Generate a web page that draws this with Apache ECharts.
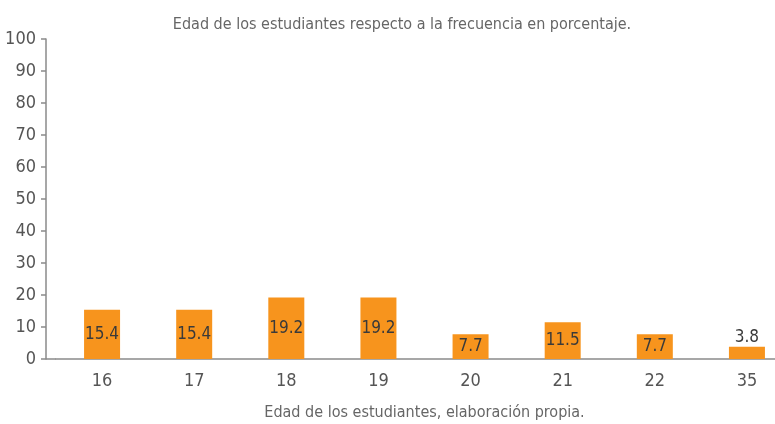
<!DOCTYPE html>
<html>
<head>
<meta charset="utf-8">
<script src="https://cdn.jsdelivr.net/npm/echarts@6/dist/echarts.min.js"></script>
<style>
  html, body { margin: 0; padding: 0; background: #fff; }
  #chart { width: 775px; height: 424px; }
</style>
</head>
<body>
<div id="chart"></div>
<script>
// Age groups of the students and their share (%)
const ages = ['16', '17', '18', '19', '20', '21', '22', '35'];
const percentages = [15.4, 15.4, 19.2, 19.2, 7.7, 11.5, 7.7, 3.8];
const yTicks = { min: 0, max: 100, step: 10 };

const FONT = "'Liberation Sans Narrow', 'DejaVu Sans Condensed', 'Roboto', sans-serif";
const BAR = '#F7941D';
const AXIS = '#8a8a8a';
const GRID_LEFT = 56;
const Y_OFFSET = 10;

const chart = echarts.init(document.getElementById('chart'), null, { renderer: 'canvas' });

chart.setOption({
  backgroundColor: '#ffffff',
  animation: false,
  title: {
    text: 'Edad de los estudiantes respecto a la frecuencia en porcentaje.',
    left: 397,
    textAlign: 'center',
    top: 12,
    textStyle: { fontFamily: FONT, fontSize: 16, fontWeight: 'normal', color: '#666' }
  },
  grid: { left: GRID_LEFT, top: 39, width: 737, height: 320, outerBoundsMode: 'none', containLabel: false },
  xAxis: {
    type: 'category',
    data: ages,
    name: 'Edad de los estudiantes, elaboración propia.',
    nameLocation: 'middle',
    nameGap: 46,
    nameTextStyle: { fontFamily: FONT, fontSize: 16, color: '#666' },
    axisLine: { lineStyle: { color: AXIS, width: 1.5 } },
    axisTick: { show: false },
    axisLabel: { fontFamily: FONT, fontSize: 18, color: '#555', margin: 13 }
  },
  yAxis: {
    type: 'value',
    min: yTicks.min,
    max: yTicks.max,
    interval: yTicks.step,
    offset: Y_OFFSET,
    axisLine: { show: true, lineStyle: { color: AXIS, width: 1.5 } },
    axisTick: { show: true, length: 5, lineStyle: { color: AXIS, width: 1.5 } },
    splitLine: { show: false },
    axisLabel: { fontFamily: FONT, fontSize: 18, color: '#555', margin: 10 }
  },
  series: [{
    type: 'bar',
    data: percentages.map(v => ({
      value: v,
      // bars too short to hold the number get it on top
      label: v < 5 ? { position: 'top', distance: 1 } : {}
    })),
    barWidth: 36,
    itemStyle: { color: BAR },
    label: {
      show: true,
      position: 'inside',
      fontFamily: FONT,
      fontSize: 17,
      color: '#3a3a3a'
    }
  }]
});

// Close the gap between the offset value axis and the start of the category axis line
const y0 = chart.convertToPixel({ yAxisIndex: 0 }, 0);
chart.setOption({
  graphic: [{
    type: 'line',
    shape: { x1: GRID_LEFT - Y_OFFSET, y1: y0, x2: GRID_LEFT, y2: y0 },
    style: { stroke: AXIS, lineWidth: 1.5 },
    silent: true
  }]
});
</script>
</body>
</html>
